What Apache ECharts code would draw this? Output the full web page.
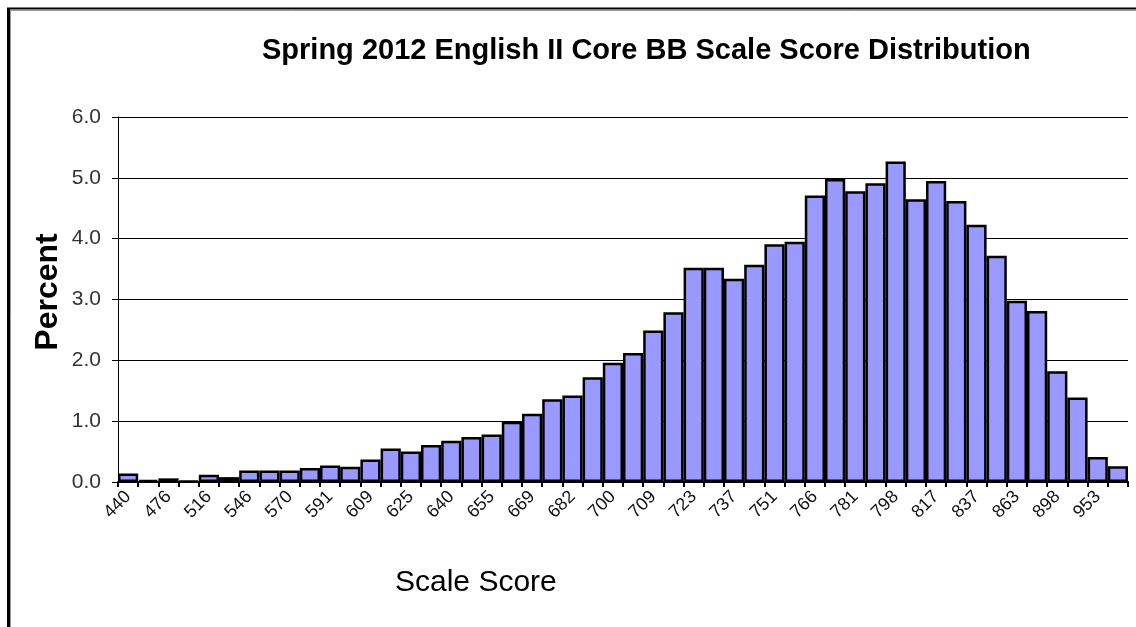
<!DOCTYPE html>
<html>
<head>
<meta charset="utf-8">
<title>Spring 2012 English II Core BB Scale Score Distribution</title>
<script src="https://cdn.jsdelivr.net/npm/echarts@6/dist/echarts.min.js"></script>
<style>
  html, body { margin: 0; padding: 0; background: #fff; }
  #chart { width: 1136px; height: 627px; }
</style>
</head>
<body>
<div id="chart"></div>
<script>
// score bins, only every other one is labelled in the original
var scoreLabels = [
  '440', '', '476', '', '516', '', '546', '', '570', '',
  '591', '', '609', '', '625', '', '640', '', '655', '',
  '669', '', '682', '', '700', '', '709', '', '723', '',
  '737', '', '751', '', '766', '', '781', '', '798', '',
  '817', '', '837', '', '863', '', '898', '', '953', ''
];
// percent of students per bin
var percentValues = [
  0.14, 0.03, 0.06, 0.02, 0.12, 0.08, 0.19, 0.19, 0.19, 0.23,
  0.27, 0.25, 0.37, 0.55, 0.50, 0.61, 0.68, 0.74, 0.78, 0.99,
  1.12, 1.36, 1.42, 1.72, 1.96, 2.12, 2.49, 2.79, 3.52, 3.52,
  3.34, 3.57, 3.91, 3.95, 4.71, 4.98, 4.78, 4.91, 5.27, 4.65,
  4.95, 4.62, 4.23, 3.72, 2.98, 2.81, 1.82, 1.39, 0.41, 0.26
];
var yMin = 0, yMax = 6, yStep = 1;

var chart = echarts.init(document.getElementById('chart'));
var font = '"Liberation Sans", Arial, sans-serif';

var option = {
  backgroundColor: '#fff',
  animation: false,
  title: [
    {
      text: 'Spring 2012 English II Core BB Scale Score Distribution',
      left: 262,
      top: 36,
      padding: 0,
      textStyle: { fontFamily: font, fontSize: 29, fontWeight: 'bold', color: '#000' }
    },
    {
      text: 'Scale Score',
      left: 395,
      top: 568,
      padding: 0,
      textStyle: { fontFamily: font, fontSize: 30, fontWeight: 'normal', color: '#000' }
    }
  ],
  grid: { left: 118, right: 8, top: 117, bottom: 145, containLabel: false },
  xAxis: {
    type: 'category',
    data: scoreLabels,
    boundaryGap: true,
    axisLine: { lineStyle: { color: '#000', width: 2 } },
    axisTick: { show: true, interval: 0, length: 5, lineStyle: { color: '#000', width: 2 } },
    axisLabel: {
      interval: 0,
      rotate: 45,
      margin: 12,
      fontFamily: font,
      fontSize: 18,
      color: '#111'
    },
    splitLine: { show: false }
  },
  yAxis: {
    type: 'value',
    min: yMin,
    max: yMax,
    interval: yStep,
    axisLine: { show: true, lineStyle: { color: '#000', width: 1 } },
    axisTick: { show: true, length: 6, lineStyle: { color: '#000', width: 1 } },
    axisLabel: {
      margin: 17,
      fontFamily: font,
      fontSize: 21,
      color: '#333',
      formatter: function (v) { return v.toFixed(1); }
    },
    splitLine: { show: true, lineStyle: { color: '#000', width: 1 } }
  },
  series: [
    {
      type: 'bar',
      data: percentValues,
      barCategoryGap: 0,
      itemStyle: { color: '#9999FF', borderColor: '#000', borderWidth: 2.5 }
    }
  ],
  graphic: [
    // y axis title, placed by hand like the original
    {
      type: 'text',
      x: 48,
      y: 292,
      rotation: Math.PI / 2,
      style: {
        text: 'Percent',
        align: 'center',
        verticalAlign: 'middle',
        font: 'bold 32px "Liberation Sans", Arial, sans-serif',
        fill: '#000'
      }
    },
    // outer frame of the original picture (left and top edge only)
    { type: 'line', shape: { x1: 8.5, y1: 8, x2: 8.5, y2: 627 }, style: { stroke: '#000', lineWidth: 3 } },
    { type: 'line', shape: { x1: 10.5, y1: 10, x2: 10.5, y2: 627 }, style: { stroke: '#999', lineWidth: 1 } },
    { type: 'line', shape: { x1: 7, y1: 8.5, x2: 1136, y2: 8.5 }, style: { stroke: '#000', lineWidth: 2 } },
    { type: 'line', shape: { x1: 10, y1: 10.5, x2: 1136, y2: 10.5 }, style: { stroke: '#999', lineWidth: 1 } }
  ]
};

chart.setOption(option);
</script>
</body>
</html>
